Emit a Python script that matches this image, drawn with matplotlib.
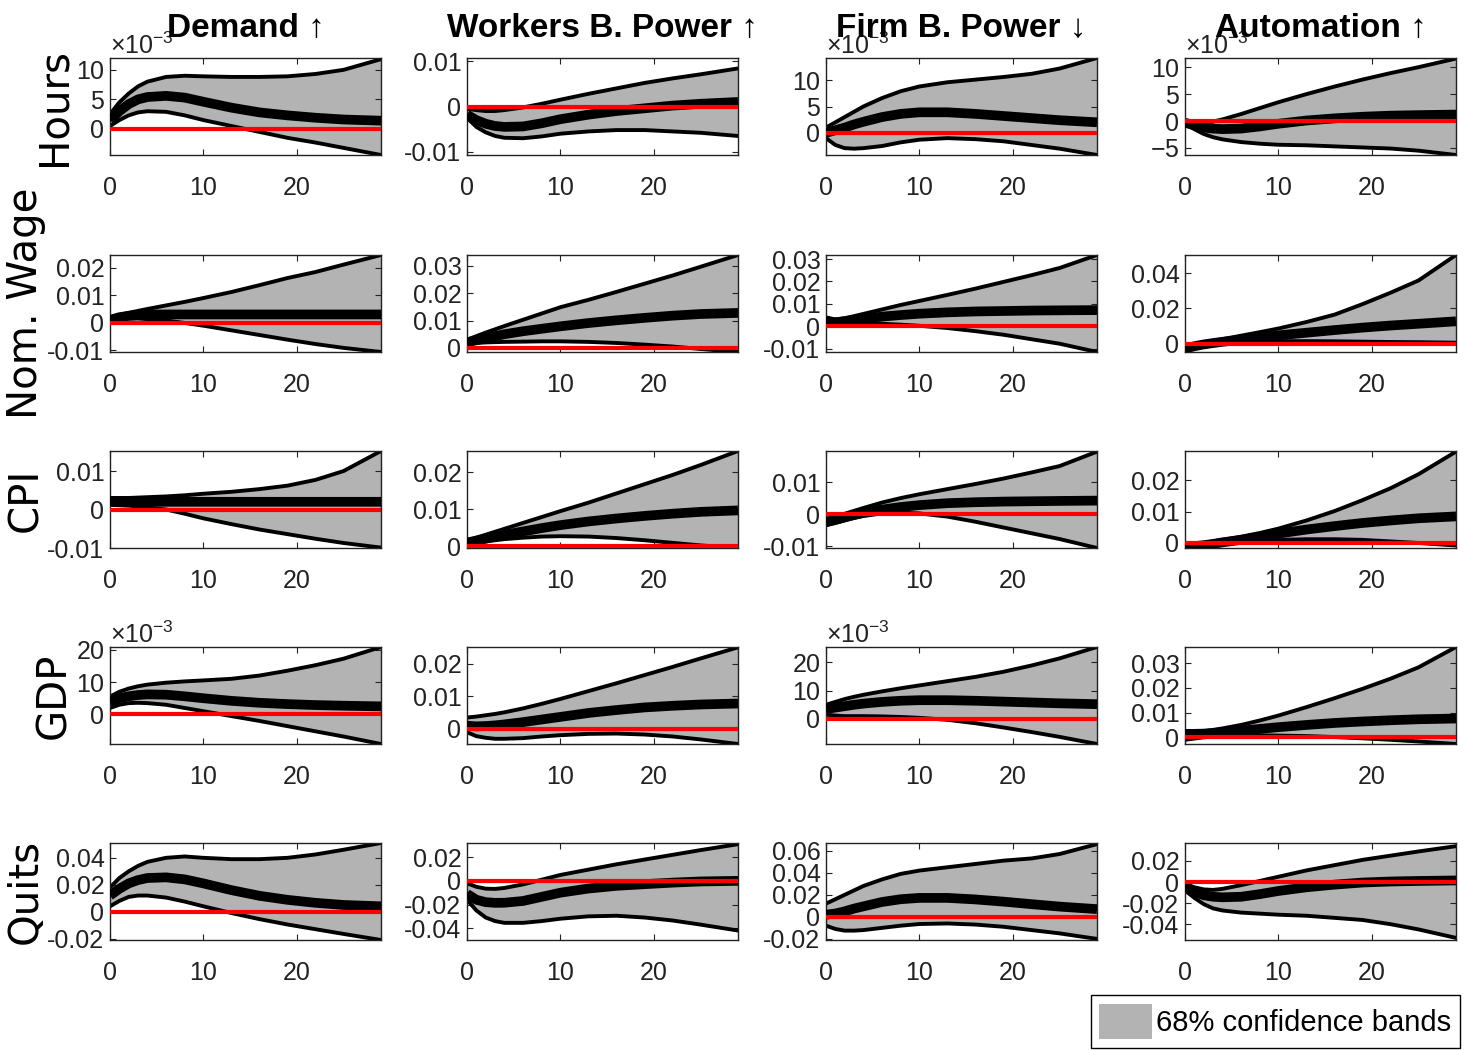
import numpy as np
import matplotlib
matplotlib.use('Agg')
import matplotlib.pyplot as plt
from matplotlib.patches import Patch
from matplotlib.ticker import FuncFormatter, ScalarFormatter

FONT = ['Liberation Sans', 'DejaVu Sans']
plt.rcParams['font.family'] = FONT
plt.rcParams['axes.unicode_minus'] = False
plt.rcParams['mathtext.fontset'] = 'custom'
plt.rcParams['mathtext.rm'] = 'Liberation Sans'

horizon = [0, 1, 2, 3, 4, 6, 8, 10, 13, 16, 19, 22, 25, 29]

shocks = ['Demand ↑', 'Workers B. Power ↑', 'Firm B. Power ↓', 'Automation ↑']
variables = ['Hours', 'Nom. Wage', 'CPI', 'GDP', 'Quits']

# ---- Hours
hours_dem_mid = [0.0015, 0.003, 0.0042, 0.005, 0.0054, 0.0056, 0.0053, 0.0046, 0.0036, 0.0028, 0.0023, 0.0019, 0.0016, 0.0014]
hours_dem_lo = [0.0005, 0.0015, 0.0023, 0.0028, 0.003, 0.0029, 0.0023, 0.0015, 0.0005, -0.0005, -0.0015, -0.0023, -0.0032, -0.0044]
hours_dem_hi = [0.0025, 0.0045, 0.006, 0.0072, 0.008, 0.0088, 0.009, 0.0089, 0.0088, 0.0088, 0.0089, 0.0093, 0.01, 0.0118]
hours_wbp_mid = [-0.0018, -0.003, -0.0038, -0.0043, -0.0045, -0.0044, -0.0037, -0.0028, -0.0018, -0.001, -0.0004, 0.0002, 0.0006, 0.001]
hours_wbp_lo = [-0.0025, -0.0045, -0.0057, -0.0065, -0.0069, -0.007, -0.0066, -0.006, -0.0055, -0.0052, -0.0052, -0.0055, -0.0058, -0.0065]
hours_wbp_hi = [-0.0005, -0.0008, -0.001, -0.001, -0.0008, -0.0002, 0.0006, 0.0015, 0.0028, 0.004, 0.0052, 0.0062, 0.0071, 0.0084]
hours_fbp_mid = [0.0, 0.0005, 0.001, 0.0016, 0.0021, 0.003, 0.0036, 0.0039, 0.0039, 0.0036, 0.0032, 0.0028, 0.0024, 0.002]
hours_fbp_lo = [-0.001, -0.0023, -0.0029, -0.003, -0.0029, -0.0025, -0.0018, -0.0013, -0.001, -0.0012, -0.0016, -0.0023, -0.003, -0.0042]
hours_fbp_hi = [0.001, 0.002, 0.003, 0.004, 0.005, 0.0066, 0.0079, 0.0088, 0.0096, 0.0101, 0.0106, 0.0112, 0.0122, 0.0142]
hours_aut_mid = [-0.0003, -0.0008, -0.0012, -0.0014, -0.0015, -0.0014, -0.001, -0.0005, 0.0001, 0.0005, 0.0008, 0.001, 0.0011, 0.0012]
hours_aut_lo = [-0.0005, -0.0015, -0.0024, -0.003, -0.0034, -0.0039, -0.0042, -0.0044, -0.0045, -0.0047, -0.0049, -0.0051, -0.0055, -0.0063]
hours_aut_hi = [-0.0002, -0.0003, -0.0003, -0.0001, 0.0003, 0.0013, 0.0024, 0.0035, 0.005, 0.0064, 0.0077, 0.0089, 0.01, 0.0116]

# ---- Nominal wage
wage_dem_mid = [0.001, 0.002, 0.0025, 0.0028, 0.003, 0.003, 0.003, 0.003, 0.003, 0.003, 0.003, 0.003, 0.003, 0.003]
wage_dem_lo = [0.0, 0.0012, 0.0015, 0.0015, 0.0013, 0.0008, -0.0001, -0.0011, -0.0028, -0.0045, -0.0062, -0.0078, -0.0092, -0.0107]
wage_dem_hi = [0.002, 0.0028, 0.0036, 0.0043, 0.005, 0.0063, 0.0076, 0.009, 0.0112, 0.0137, 0.0163, 0.0185, 0.0212, 0.0247]
wage_wbp_mid = [0.002, 0.0028, 0.0036, 0.0043, 0.005, 0.0061, 0.007, 0.0079, 0.0091, 0.0101, 0.011, 0.0118, 0.0124, 0.0128]
wage_wbp_lo = [0.0015, 0.0018, 0.002, 0.0021, 0.0022, 0.0023, 0.0024, 0.0024, 0.0022, 0.0018, 0.0012, 0.0005, -0.0004, -0.0015]
wage_wbp_hi = [0.003, 0.0043, 0.0056, 0.0068, 0.008, 0.0103, 0.0126, 0.0149, 0.0176, 0.0205, 0.0235, 0.0265, 0.0297, 0.034]
wage_fbp_mid = [0.002, 0.0018, 0.0022, 0.0028, 0.0034, 0.0043, 0.005, 0.0056, 0.0062, 0.0066, 0.0068, 0.007, 0.0071, 0.0072]
wage_fbp_lo = [0.0005, 0.001, 0.0012, 0.0013, 0.0013, 0.0011, 0.0007, 0.0002, -0.0008, -0.0022, -0.0038, -0.0058, -0.0078, -0.0115]
wage_fbp_hi = [0.004, 0.003, 0.0036, 0.0045, 0.0055, 0.0075, 0.0095, 0.0113, 0.014, 0.0168, 0.0198, 0.0228, 0.026, 0.0318]
wage_aut_mid = [-0.003, -0.0015, -0.0005, 0.0003, 0.001, 0.0022, 0.0034, 0.0047, 0.0062, 0.0077, 0.0091, 0.0103, 0.0113, 0.0127]
wage_aut_lo = [-0.004, -0.003, -0.0015, -0.0005, 0.0, 0.0008, 0.0012, 0.0014, 0.0014, 0.0013, 0.0011, 0.0009, 0.0008, 0.0005]
wage_aut_hi = [-0.002, -0.0008, 0.0004, 0.0015, 0.0025, 0.0045, 0.0065, 0.0086, 0.0123, 0.0165, 0.0225, 0.029, 0.036, 0.0505]

# ---- CPI
cpi_dem_mid = [0.0022, 0.002, 0.002, 0.002, 0.002, 0.002, 0.002, 0.002, 0.002, 0.002, 0.002, 0.002, 0.002, 0.002]
cpi_dem_lo = [0.0012, 0.0011, 0.001, 0.0008, 0.0005, 0.0, -0.0011, -0.0023, -0.0038, -0.0052, -0.0064, -0.0076, -0.0087, -0.0099]
cpi_dem_hi = [0.003, 0.003, 0.003, 0.0031, 0.0032, 0.0034, 0.0037, 0.0041, 0.0046, 0.0053, 0.0062, 0.0077, 0.01, 0.0152]
cpi_wbp_mid = [0.001, 0.0015, 0.002, 0.0026, 0.0031, 0.004, 0.0049, 0.0057, 0.0067, 0.0075, 0.0082, 0.0088, 0.0093, 0.0097]
cpi_wbp_lo = [0.0005, 0.0009, 0.0013, 0.0016, 0.0019, 0.0023, 0.0026, 0.0027, 0.0026, 0.0022, 0.0016, 0.0009, 0.0002, -0.0005]
cpi_wbp_hi = [0.0015, 0.0023, 0.0031, 0.0039, 0.0047, 0.0063, 0.0079, 0.0095, 0.0118, 0.0143, 0.0168, 0.0193, 0.022, 0.0258]
cpi_fbp_mid = [-0.0025, -0.0018, -0.001, -0.0003, 0.0004, 0.0014, 0.0022, 0.0028, 0.0034, 0.0037, 0.0039, 0.004, 0.0041, 0.0042]
cpi_fbp_lo = [-0.0035, -0.0028, -0.002, -0.0012, -0.0006, 0.0002, 0.0004, 0.0002, -0.0008, -0.0024, -0.0042, -0.006, -0.0078, -0.0106]
cpi_fbp_hi = [-0.0015, -0.0008, 0.0001, 0.001, 0.0019, 0.0036, 0.005, 0.0062, 0.0078, 0.0094, 0.0111, 0.013, 0.015, 0.0195]
cpi_aut_mid = [-0.0012, -0.001, -0.0007, -0.0003, 0.0002, 0.001, 0.002, 0.003, 0.0043, 0.0054, 0.0064, 0.0072, 0.0079, 0.0085]
cpi_aut_lo = [-0.0016, -0.0013, -0.0009, -0.0005, -0.0002, 0.0003, 0.0007, 0.001, 0.0012, 0.0012, 0.001, 0.0005, 0.0, -0.0008]
cpi_aut_hi = [-0.0008, -0.0005, 0.0, 0.0005, 0.001, 0.002, 0.0032, 0.0046, 0.0072, 0.0102, 0.0137, 0.0175, 0.022, 0.0292]

# ---- GDP
gdp_dem_mid = [0.004, 0.005, 0.0056, 0.006, 0.0062, 0.0061, 0.0056, 0.005, 0.0042, 0.0036, 0.0032, 0.0029, 0.0027, 0.0025]
gdp_dem_lo = [0.002, 0.003, 0.0035, 0.0036, 0.0035, 0.003, 0.002, 0.001, -0.0005, -0.002, -0.0036, -0.0052, -0.0068, -0.0091]
gdp_dem_hi = [0.0055, 0.007, 0.008, 0.0087, 0.0092, 0.0098, 0.0102, 0.0105, 0.011, 0.012, 0.0135, 0.0152, 0.0172, 0.0208]
gdp_wbp_mid = [0.001, 0.0008, 0.0009, 0.0011, 0.0014, 0.0021, 0.0029, 0.0037, 0.0049, 0.0058, 0.0066, 0.0071, 0.0075, 0.0078]
gdp_wbp_lo = [-0.001, -0.0022, -0.0027, -0.003, -0.003, -0.0028, -0.0023, -0.0019, -0.0015, -0.0014, -0.0017, -0.0023, -0.0032, -0.0046]
gdp_wbp_hi = [0.0035, 0.0038, 0.0042, 0.0046, 0.0051, 0.0063, 0.0077, 0.0092, 0.0116, 0.014, 0.0165, 0.019, 0.0216, 0.025]
gdp_fbp_mid = [0.0035, 0.004, 0.0045, 0.005, 0.0054, 0.006, 0.0064, 0.0066, 0.0066, 0.0064, 0.0061, 0.0058, 0.0055, 0.0052]
gdp_fbp_lo = [0.0015, 0.0012, 0.001, 0.001, 0.001, 0.0009, 0.0007, 0.0004, -0.0003, -0.0015, -0.003, -0.0046, -0.0063, -0.0088]
gdp_fbp_hi = [0.005, 0.006, 0.007, 0.0078, 0.0085, 0.0097, 0.0108, 0.0118, 0.0133, 0.0148, 0.0166, 0.0188, 0.0213, 0.0253]
gdp_aut_mid = [0.0014, 0.0014, 0.0015, 0.0017, 0.002, 0.0027, 0.0034, 0.0041, 0.005, 0.0058, 0.0064, 0.0069, 0.0073, 0.0076]
gdp_aut_lo = [-0.001, -0.0005, 0.0, 0.0003, 0.0005, 0.0007, 0.0008, 0.0007, 0.0005, 0.0001, -0.0004, -0.001, -0.0017, -0.0027]
gdp_aut_hi = [0.002, 0.0022, 0.0025, 0.003, 0.0036, 0.005, 0.0068, 0.0088, 0.0122, 0.0158, 0.0196, 0.0237, 0.0283, 0.0365]

# ---- Quits
quits_dem_mid = [0.012, 0.017, 0.021, 0.0235, 0.025, 0.0255, 0.024, 0.021, 0.016, 0.0118, 0.0088, 0.0066, 0.005, 0.004]
quits_dem_lo = [0.004, 0.008, 0.011, 0.012, 0.012, 0.0105, 0.0075, 0.004, -0.001, -0.0055, -0.0095, -0.013, -0.0165, -0.021]
quits_dem_hi = [0.018, 0.025, 0.03, 0.034, 0.037, 0.04, 0.041, 0.04, 0.039, 0.039, 0.04, 0.0425, 0.046, 0.051]
quits_wbp_mid = [-0.011, -0.016, -0.018, -0.0186, -0.0185, -0.017, -0.0135, -0.01, -0.0065, -0.0042, -0.0028, -0.0015, -0.0005, 0.0]
quits_wbp_lo = [-0.016, -0.025, -0.031, -0.034, -0.0355, -0.0355, -0.034, -0.032, -0.03, -0.0295, -0.031, -0.0335, -0.037, -0.042]
quits_wbp_hi = [-0.002, -0.005, -0.0066, -0.0068, -0.006, -0.003, 0.001, 0.005, 0.0095, 0.014, 0.018, 0.022, 0.026, 0.031]
quits_fbp_mid = [0.002, 0.003, 0.005, 0.0075, 0.0095, 0.0135, 0.016, 0.0172, 0.0172, 0.0158, 0.0138, 0.0115, 0.0093, 0.007]
quits_fbp_lo = [-0.008, -0.011, -0.0125, -0.0125, -0.012, -0.01, -0.008, -0.0065, -0.006, -0.007, -0.009, -0.012, -0.015, -0.02]
quits_fbp_hi = [0.012, 0.016, 0.02, 0.024, 0.028, 0.034, 0.039, 0.042, 0.045, 0.048, 0.051, 0.053, 0.057, 0.066]
quits_aut_mid = [-0.004, -0.009, -0.0125, -0.014, -0.0145, -0.014, -0.0115, -0.0085, -0.005, -0.0025, -0.0005, 0.0005, 0.001, 0.0015]
quits_aut_lo = [-0.008, -0.015, -0.021, -0.025, -0.027, -0.029, -0.03, -0.031, -0.032, -0.034, -0.036, -0.04, -0.045, -0.053]
quits_aut_hi = [-0.002, -0.005, -0.007, -0.0075, -0.0065, -0.003, 0.001, 0.005, 0.011, 0.016, 0.021, 0.025, 0.029, 0.034]

panels = [
    [(hours_dem_mid, hours_dem_lo, hours_dem_hi), (hours_wbp_mid, hours_wbp_lo, hours_wbp_hi),
     (hours_fbp_mid, hours_fbp_lo, hours_fbp_hi), (hours_aut_mid, hours_aut_lo, hours_aut_hi)],
    [(wage_dem_mid, wage_dem_lo, wage_dem_hi), (wage_wbp_mid, wage_wbp_lo, wage_wbp_hi),
     (wage_fbp_mid, wage_fbp_lo, wage_fbp_hi), (wage_aut_mid, wage_aut_lo, wage_aut_hi)],
    [(cpi_dem_mid, cpi_dem_lo, cpi_dem_hi), (cpi_wbp_mid, cpi_wbp_lo, cpi_wbp_hi),
     (cpi_fbp_mid, cpi_fbp_lo, cpi_fbp_hi), (cpi_aut_mid, cpi_aut_lo, cpi_aut_hi)],
    [(gdp_dem_mid, gdp_dem_lo, gdp_dem_hi), (gdp_wbp_mid, gdp_wbp_lo, gdp_wbp_hi),
     (gdp_fbp_mid, gdp_fbp_lo, gdp_fbp_hi), (gdp_aut_mid, gdp_aut_lo, gdp_aut_hi)],
    [(quits_dem_mid, quits_dem_lo, quits_dem_hi), (quits_wbp_mid, quits_wbp_lo, quits_wbp_hi),
     (quits_fbp_mid, quits_fbp_lo, quits_fbp_hi), (quits_aut_mid, quits_aut_lo, quits_aut_hi)],
]

# y axis limits / ticks as shown in each panel
ylims = [
    [(-0.0044, 0.012), (-0.0107, 0.0107), (-0.0042, 0.0142), (-0.0063, 0.0117)],
    [(-0.0107, 0.0247), (-0.0015, 0.034), (-0.0115, 0.0318), (-0.0048, 0.0505)],
    [(-0.0099, 0.0152), (-0.0005, 0.0258), (-0.0106, 0.0197), (-0.0016, 0.0294)],
    [(-0.0091, 0.0208), (-0.0046, 0.0251), (-0.0088, 0.0253), (-0.0027, 0.0365)],
    [(-0.021, 0.051), (-0.05, 0.032), (-0.021, 0.067), (-0.055, 0.037)],
]
yticks = [
    [[0, 0.005, 0.01], [-0.01, 0, 0.01], [0, 0.005, 0.01], [-0.005, 0, 0.005, 0.01]],
    [[-0.01, 0, 0.01, 0.02], [0, 0.01, 0.02, 0.03], [-0.01, 0, 0.01, 0.02, 0.03], [0, 0.02, 0.04]],
    [[-0.01, 0, 0.01], [0, 0.01, 0.02], [-0.01, 0, 0.01], [0, 0.01, 0.02]],
    [[0, 0.01, 0.02], [0, 0.01, 0.02], [0, 0.01, 0.02], [0, 0.01, 0.02, 0.03]],
    [[-0.02, 0, 0.02, 0.04], [-0.04, -0.02, 0, 0.02], [-0.02, 0, 0.02, 0.04, 0.06], [-0.04, -0.02, 0, 0.02]],
]
sci_panels = {(0, 0), (0, 2), (0, 3), (3, 0), (3, 2)}

W, H = 1464, 1050
fig = plt.figure(figsize=(W / 100, H / 100), dpi=100)

col_left = [110, 467, 826, 1185]
row_top = [58, 255, 451, 647, 843]
ax_w, ax_h = 271, 97

plain = FuncFormatter(lambda v, p: f'{v:g}')

for r in range(5):
    for c in range(4):
        ax = fig.add_axes([col_left[c] / W, 1 - (row_top[r] + ax_h) / H, ax_w / W, ax_h / H])
        mid, lo, hi = panels[r][c]
        ax.fill_between(horizon, lo, hi, color='#b3b3b3', lw=0, zorder=1)
        ax.plot(horizon, lo, color='black', lw=2.8, zorder=2)
        ax.plot(horizon, hi, color='black', lw=2.8, zorder=2)
        ax.plot(horizon, mid, color='black', lw=7, zorder=3, solid_capstyle='butt')
        ax.axhline(0, color='red', lw=3, zorder=4)
        ax.set_xlim(0, 29)
        ax.set_ylim(*ylims[r][c])
        ax.set_xticks([0, 10, 20])
        ax.set_yticks(yticks[r][c])
        if (r, c) in sci_panels:
            fmt = ScalarFormatter(useMathText=True)
            fmt.set_powerlimits((-3, -3))
            ax.yaxis.set_major_formatter(fmt)
            ax.yaxis.get_offset_text().set_fontsize(18)
            ax.yaxis.get_offset_text().set_color('#333333')
        else:
            ax.yaxis.set_major_formatter(plain)
        ax.tick_params(axis='both', direction='in', length=4, width=0.8,
                       top=True, right=True, labelsize=18, colors='#222222')
        ax.tick_params(axis='x', pad=15)
        ax.tick_params(axis='y', pad=4)
        for s in ax.spines.values():
            s.set_linewidth(1.0)
            s.set_color('#222222')
        if c == 0:
            # row label sits just left of the tick labels, like a y label
            ax.set_ylabel(variables[r], fontsize=29, family=['DejaVu Sans'], labelpad=1)

# column titles
for c, name in enumerate(shocks):
    xc = (col_left[c] + ax_w / 2) / W
    fig.text(xc, 1 - 28 / H, name, ha='center', va='center',
             fontsize=24, fontweight='bold')

fig.legend(handles=[Patch(facecolor='#b3b3b3', edgecolor='none', label='68% confidence bands')],
           loc='lower right', bbox_to_anchor=(1460 / W, 2 / H), fontsize=21,
           frameon=True, fancybox=False, edgecolor='black', framealpha=1,
           handlelength=1.8, handleheight=1.5, handletextpad=0.15,
           borderpad=0.3, borderaxespad=0)

fig.savefig('out.png', dpi=100)
